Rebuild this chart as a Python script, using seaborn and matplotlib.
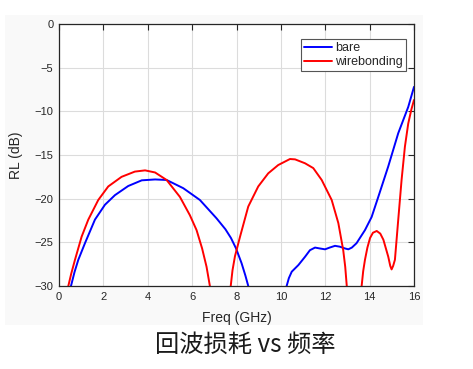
import matplotlib
matplotlib.use('Agg')
import matplotlib.pyplot as plt
import seaborn as sns
import pandas as pd
from matplotlib.patches import Rectangle

# --- values (freq in GHz, RL in dB) ---
bare_freq = [0.3, 0.54, 0.7, 0.87, 1.17, 1.62, 2.07, 2.52, 3.12, 3.73, 4.33,
             4.85, 5.6, 6.35, 7.1, 7.5, 7.75, 7.98, 8.23, 8.4, 8.53, 8.8, 9.4,
             10.0, 10.26, 10.36, 10.49, 10.79, 11.09, 11.31, 11.54, 11.75,
             11.99, 12.2, 12.44, 12.66, 12.89, 13.04, 13.2, 13.41, 13.79, 14.09,
             14.39, 14.84, 15.29, 15.74, 16.0]
bare_rl = [-32.2, -30, -28.4, -27.0, -25.1, -22.4, -20.7, -19.6, -18.55, -17.9,
           -17.8, -17.86, -18.8, -20.15, -22.25, -23.5, -24.5, -25.7, -27.4,
           -28.8, -30, -33, -38, -33, -30, -29.1, -28.36, -27.6, -26.65, -25.9,
           -25.6, -25.7, -25.8, -25.6, -25.4, -25.5, -25.7, -25.8, -25.6, -25.1,
           -23.6, -22.1, -19.8, -16.3, -12.5, -9.5, -7.2]

wire_freq = [0.3, 0.42, 0.55, 0.72, 1.02, 1.32, 1.77, 2.22, 2.82, 3.42, 3.88,
             4.33, 4.85, 5.45, 5.9, 6.2, 6.45, 6.65, 6.8, 7.0, 7.25, 7.5, 7.74,
             7.82, 7.93, 8.16, 8.53, 8.98, 9.43, 9.88, 10.41, 10.64, 11.09, 11.46,
             11.84, 12.29, 12.59, 12.81, 12.9, 12.97, 13.3, 13.64, 13.71, 13.79,
             13.9, 14.02, 14.15, 14.32, 14.48, 14.62, 14.84, 14.93, 14.99, 15.06,
             15.14, 15.29, 15.44, 15.59, 15.74, 15.88, 16.0]
wire_rl = [-31.3, -30, -28.6, -27.0, -24.35, -22.4, -20.15, -18.6, -17.5, -16.9,
           -16.76, -17.0, -17.86, -19.8, -21.9, -23.6, -25.7, -27.8, -30, -34,
           -40, -34, -30, -28.2, -26.6, -24.35, -20.9, -18.6, -17.1, -16.15,
           -15.46, -15.5, -15.95, -16.5, -17.86, -20.15, -22.8, -25.9, -27.8,
           -30, -36, -30, -28.3, -27.0, -25.6, -24.5, -23.9, -23.7, -24.0,
           -24.7, -26.65, -27.7, -28.1, -27.7, -27.0, -22.4, -17.86, -14.05,
           -11.4, -9.8, -8.7]

x_ticks = [0, 2, 4, 6, 8, 10, 12, 14, 16]
y_ticks = [0, -5, -10, -15, -20, -25, -30]

sns.set_style('white')
plt.rcParams['font.family'] = ['Liberation Sans', 'DejaVu Sans']

fig = plt.figure(figsize=(4.73, 3.69), dpi=100)
# faint grey panel behind the axes, like the exported figure window
fig.patches.append(Rectangle((5 / 473, 1 - 325 / 369), 418 / 473, 310 / 369,
                             transform=fig.transFigure, facecolor='#f9f9f9',
                             edgecolor='none', zorder=-5))
ax = fig.add_axes([59 / 473, 1 - 286 / 369, 355 / 473, 262 / 369])
ax.set_zorder(5)

bare = pd.DataFrame({'freq': bare_freq, 'rl': bare_rl})
wire = pd.DataFrame({'freq': wire_freq, 'rl': wire_rl})
sns.lineplot(data=bare, x='freq', y='rl', color='#0000ff', lw=1.4,
             label='bare', ax=ax, sort=False)
sns.lineplot(data=wire, x='freq', y='rl', color='#ff0000', lw=1.4,
             label='wirebonding', ax=ax, sort=False)

ax.set_xlim(0, 16)
ax.set_ylim(-30, 0)
ax.set_xticks(x_ticks)
ax.set_yticks(y_ticks)
ax.set_facecolor('white')
ax.grid(True, color='#dcdcdc', lw=0.8)
ax.tick_params(direction='in', length=4, width=0.8, top=True, right=True,
               labelsize=8, colors='#262626', pad=4)
for s in ax.spines.values():
    s.set_color('#262626')
    s.set_linewidth(0.9)

ax.set_xlabel('Freq (GHz)', fontsize=10, color='#262626', labelpad=7)
ax.set_ylabel('RL (dB)', fontsize=10, color='#262626', labelpad=8)

leg = ax.legend(loc='upper right', fontsize=9, frameon=True, fancybox=False,
                framealpha=1, edgecolor='#555555', borderpad=0.25,
                handlelength=2.25, handletextpad=0.25, labelspacing=0.15,
                bbox_to_anchor=(406 / 473, 1 - 39 / 369),
                bbox_transform=fig.transFigure, borderaxespad=0)
leg.get_frame().set_linewidth(0.8)

fig.text(245 / 473, 1 - 345 / 369, '回波损耗 vs 频率', fontsize=17.5,
         family=['Noto Sans CJK SC', 'DejaVu Sans'], ha='center', va='center',
         color='#1a1a1a')

fig.savefig('out.png', dpi=100)
